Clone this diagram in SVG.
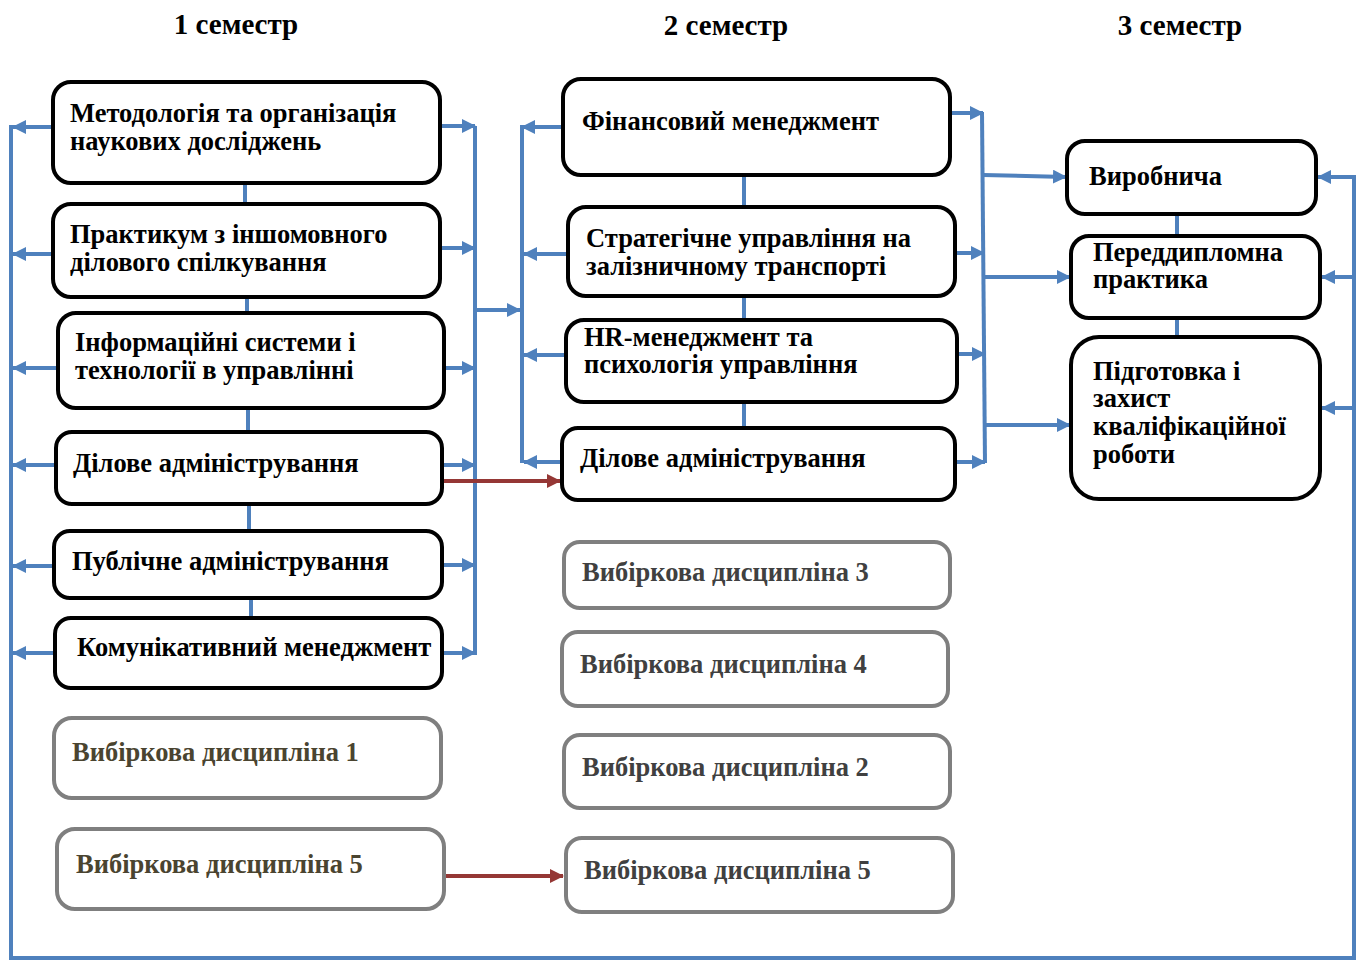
<svg xmlns="http://www.w3.org/2000/svg" width="1358" height="961" viewBox="0 0 1358 961">
<style>
.box{fill:#fff;stroke:#000;stroke-width:4}
.opt{fill:#fff;stroke:#7f7f7f;stroke-width:4}
.t{font-family:"Liberation Serif",serif;font-weight:bold;font-size:26.5px;fill:#000}
.t1{font-family:"Liberation Serif",serif;font-weight:bold;font-size:26.5px;fill:#4a4430}
.t2{font-family:"Liberation Serif",serif;font-weight:bold;font-size:26.5px;fill:#404040}
.h{font-family:"Liberation Serif",serif;font-weight:bold;font-size:29px;fill:#000;text-anchor:middle}
.c{stroke:#4f81bd;stroke-width:4;fill:none}
.a{stroke:#4f81bd;stroke-width:4;fill:none;marker-end:url(#ab)}
.r{stroke:#953735;stroke-width:4;fill:none;marker-end:url(#ar)}
</style>
<defs>
<marker id="ab" markerUnits="userSpaceOnUse" markerWidth="14" markerHeight="14" refX="13" refY="7" orient="auto"><path d="M0,0 L14,7 L0,14 Z" fill="#4f81bd"/></marker>
<marker id="ar" markerUnits="userSpaceOnUse" markerWidth="14" markerHeight="14" refX="13" refY="7" orient="auto"><path d="M0,0 L14,7 L0,14 Z" fill="#953735"/></marker>
</defs>
<rect width="1358" height="961" fill="#fff"/>
<g id="headers">
<text class="h" x="236" y="34">1 семестр</text>
<text class="h" x="726" y="35">2 семестр</text>
<text class="h" x="1180" y="35">3 семестр</text>
</g>
<g id="connectors">
<path class="c" d="M11,125 L11,958 L1354,958 L1354,175"/>
<path class="a" d="M53,127 L13,127"/>
<path class="a" d="M53,254 L13,254"/>
<path class="a" d="M58,368 L13,368"/>
<path class="a" d="M56,465 L13,465"/>
<path class="a" d="M54,566 L13,566"/>
<path class="a" d="M55,653 L13,653"/>
<path class="a" d="M1354,177 L1318,177"/>
<path class="a" d="M1354,277 L1322,277"/>
<path class="a" d="M1354,408 L1322,408"/>
<path class="c" d="M475,126 L475,655"/>
<path class="a" d="M440,126 L475,126"/>
<path class="a" d="M440,248 L475,248"/>
<path class="a" d="M444,368 L475,368"/>
<path class="a" d="M442,465 L475,465"/>
<path class="a" d="M442,565 L475,565"/>
<path class="a" d="M442,653 L475,653"/>
<path class="a" d="M475,310 L520,310"/>
<path class="c" d="M522,125 L522,463"/>
<path class="a" d="M563,127 L522,127"/>
<path class="a" d="M568,254 L524,254"/>
<path class="a" d="M566,355 L524,355"/>
<path class="a" d="M562,462 L524,462"/>
<path class="c" d="M982,112 L985,463"/>
<path class="a" d="M950,113 L983,113"/>
<path class="a" d="M955,253 L984,253"/>
<path class="a" d="M957,354 L985,354"/>
<path class="a" d="M955,462 L985,462"/>
<path class="a" d="M983,175 L1066,177"/>
<path class="a" d="M984,277 L1070,277"/>
<path class="a" d="M985,425 L1070,425"/>
<path class="r" d="M441,481 L560,481"/>
<path class="r" d="M444,876 L563,876"/>
<path class="c" d="M245,183 L245,204"/>
<path class="c" d="M247,297 L247,313"/>
<path class="c" d="M248,408 L248,432"/>
<path class="c" d="M249,504 L249,531"/>
<path class="c" d="M251,598 L251,618"/>
<path class="c" d="M744,175 L744,207"/>
<path class="c" d="M744,296 L744,320"/>
<path class="c" d="M744,402 L744,428"/>
<path class="c" d="M1177,214 L1177,236"/>
<path class="c" d="M1177,318 L1177,337"/>
</g>
<g id="n1"><rect class="box" x="53" y="82" width="387" height="101" rx="18"/><text class="t" x="70" y="122">Методологія та організація</text><text class="t" x="70" y="150">наукових досліджень</text></g>
<g id="n2"><rect class="box" x="53" y="204" width="387" height="93" rx="18"/><text class="t" x="70" y="243">Практикум з іншомовного</text><text class="t" x="70" y="271">ділового спілкування</text></g>
<g id="n3"><rect class="box" x="58" y="313" width="386" height="95" rx="18"/><text class="t" x="75" y="351">Інформаційні системи і</text><text class="t" x="75" y="379">технології в управлінні</text></g>
<g id="n4"><rect class="box" x="56" y="432" width="386" height="72" rx="16"/><text class="t" x="73" y="472">Ділове адміністрування</text></g>
<g id="n5"><rect class="box" x="54" y="531" width="388" height="67" rx="16"/><text class="t" x="72" y="570">Публічне адміністрування</text></g>
<g id="n6"><rect class="box" x="55" y="618" width="387" height="70" rx="16"/><text class="t" x="77" y="656">Комунікативний менеджмент</text></g>
<g id="n7"><rect class="opt" x="54" y="718" width="387" height="80" rx="18"/><text class="t1" x="72" y="761">Вибіркова дисципліна 1</text></g>
<g id="n8"><rect class="opt" x="57" y="829" width="387" height="80" rx="18"/><text class="t1" x="76" y="873">Вибіркова дисципліна 5</text></g>
<g id="m1"><rect class="box" x="563" y="79" width="387" height="96" rx="18"/><text class="t" x="582" y="130">Фінансовий менеджмент</text></g>
<g id="m2"><rect class="box" x="568" y="207" width="387" height="89" rx="18"/><text class="t" x="586" y="247">Стратегічне управління на</text><text class="t" x="586" y="275">залізничному транспорті</text></g>
<g id="m3"><rect class="box" x="566" y="320" width="391" height="82" rx="18"/><text class="t" x="584" y="346">HR-менеджмент та</text><text class="t" x="584" y="373">психологія управління</text></g>
<g id="m4"><rect class="box" x="562" y="428" width="393" height="72" rx="16"/><text class="t" x="580" y="467">Ділове адміністрування</text></g>
<g id="m5"><rect class="opt" x="564" y="542" width="386" height="66" rx="16"/><text class="t2" x="582" y="581">Вибіркова дисципліна 3</text></g>
<g id="m6"><rect class="opt" x="562" y="632" width="386" height="74" rx="16"/><text class="t2" x="580" y="673">Вибіркова дисципліна 4</text></g>
<g id="m7"><rect class="opt" x="564" y="735" width="386" height="73" rx="16"/><text class="t2" x="582" y="776">Вибіркова дисципліна 2</text></g>
<g id="m8"><rect class="opt" x="566" y="838" width="387" height="74" rx="16"/><text class="t2" x="584" y="879">Вибіркова дисципліна 5</text></g>
<g id="p1"><rect class="box" x="1067" y="141" width="249" height="73" rx="18"/><text class="t" x="1089" y="185">Виробнича</text></g>
<g id="p2"><rect class="box" x="1071" y="236" width="249" height="82" rx="18"/><text class="t" x="1093" y="261">Переддипломна</text><text class="t" x="1093" y="288">практика</text></g>
<g id="p3"><rect class="box" x="1071" y="337" width="249" height="162" rx="28"/><text class="t" x="1093" y="380">Підготовка і</text><text class="t" x="1093" y="407">захист</text><text class="t" x="1093" y="435">кваліфікаційної</text><text class="t" x="1093" y="463">роботи</text></g>
</svg>
